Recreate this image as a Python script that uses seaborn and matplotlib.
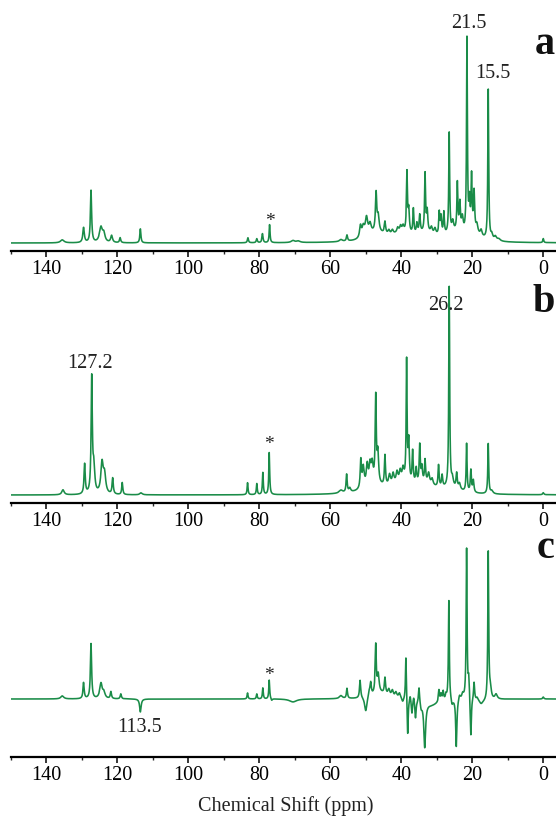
import numpy as np
import pandas as pd
import matplotlib
matplotlib.use("Agg")
import matplotlib.pyplot as plt
import seaborn as sns

# ---------------- data (peak lists) ----------------
# chemical shift (ppm), intensity (arb.), half width (ppm)
a_shift = [135.5, 129.5, 127.4, 124.6, 123.8, 121.6, 119.2, 113.5,
           83.2, 80.7, 79.1, 77.1, 70.5, 69.0, 57.0, 55.3,
           51.5, 50.7, 49.8, 48.8, 47.1, 46.5, 44.6, 43.5, 42.5, 41.0, 40.2, 39.5,
           38.4, 37.9, 36.6, 35.6, 34.8, 33.3, 32.7, 31.5, 30.5, 29.3, 28.8, 28.0,
           26.5, 25.5, 24.2, 23.5, 22.8, 21.5, 20.8, 20.2, 19.5, 18.7, 17.5,
           15.5, 14.5, 13.5, 12.5, 0.0,
           47.0, 40.0, 33.0, 25.0, 19.0]
a_height = [3, 15, 52, 15, 8, 7, 5, 14,
            5, 4, 9, 18, 2, 1.5, 2, 6,
            12, 10, 18, 10, 38, 15, 12, 4, 4, 5, 6, 6,
            60, 22, 25, 10, 18, 58, 20, 6, 6, 22, 18, 22,
            100, 10, 48, 28, 15, 195, 30, 55, 40, 8, 6,
            150, 5, 4, 2, 4,
            8, 7, 7, 8, 6]
a_width = [0.6, 0.25, 0.2, 0.5, 0.4, 0.3, 0.2, 0.18,
           0.18, 0.18, 0.18, 0.15, 0.6, 0.6, 0.5, 0.2,
           0.3, 0.4, 0.4, 0.4, 0.22, 0.3, 0.22, 0.3, 0.3, 0.3, 0.3, 0.3,
           0.17, 0.2, 0.17, 0.2, 0.2, 0.17, 0.2, 0.3, 0.3, 0.17, 0.2, 0.17,
           0.15, 0.3, 0.17, 0.2, 0.3, 0.15, 0.2, 0.17, 0.2, 0.3, 0.3,
           0.15, 0.3, 0.4, 0.5, 0.15,
           3, 4, 3, 3, 2]

b_shift = [135.3, 129.2, 127.2, 126.6, 124.3, 123.6, 121.3, 118.6, 113.3,
           83.3, 80.7, 79.0, 77.2, 57.0, 55.4, 54.5,
           51.4, 50.7, 49.6, 48.8, 48.2, 47.2, 46.6, 44.6, 43.3, 42.3, 41.2, 40.3, 39.5,
           38.5, 37.9, 36.8, 35.8, 34.8, 34.2, 33.3, 32.3, 31.3, 29.5, 28.5,
           26.5, 25.6, 24.4, 23.6, 21.6, 20.4, 19.7, 15.5, 14.5, 0.0,
           48.0, 40.0, 33.0, 26.0]
b_height = [5, 30, 115, 25, 30, 18, 16, 12, 2,
            12, 11, 22, 42, 3, 18, 4,
            28, 20, 20, 18, 18, 85, 30, 30, 10, 10, 10, 10, 12,
            120, 40, 32, 15, 38, 15, 22, 10, 6, 22, 12,
            200, 8, 15, 6, 48, 22, 12, 50, 3, 2,
            8, 10, 8, 5]
b_width = [0.4, 0.2, 0.2, 0.3, 0.4, 0.4, 0.2, 0.18, 0.4,
           0.15, 0.15, 0.15, 0.15, 0.6, 0.18, 0.3,
           0.2, 0.3, 0.3, 0.3, 0.3, 0.18, 0.25, 0.18, 0.3, 0.3, 0.3, 0.3, 0.3,
           0.15, 0.2, 0.18, 0.2, 0.18, 0.2, 0.18, 0.3, 0.3, 0.18, 0.2,
           0.15, 0.3, 0.2, 0.3, 0.15, 0.18, 0.2, 0.15, 0.4, 0.2,
           3, 4, 3, 3]

c_shift = [135.5, 129.5, 127.4, 124.6, 123.8, 121.8, 119.0, 113.5,
           83.3, 80.7, 79.0, 77.2, 76.5, 70.5, 57.0, 55.3,
           51.6, 50.0, 49.0, 48.6, 47.2, 46.5, 44.6, 43.5, 42.5, 41.5, 40.5, 39.6,
           38.7, 38.2, 37.5, 37.0, 36.5, 36.0, 35.0, 34.4, 33.4, 29.4, 28.8, 28.2, 27.4,
           26.6, 25.7, 24.5, 23.6, 22.7, 21.6, 21.0, 20.4, 19.5, 18.6, 17.5,
           15.5, 14.9, 13.3, 0.0,
           46.0, 31.5, 17.0]
c_height = [3, 16, 55, 15, 6, 7, 5, -13,
            6, 5, 11, 19, -2, -3, 3, 10,
            18, -15, 6, 12, 48, 18, 16, 6, 6, 5, 5, -4,
            45, -38, 6, -14, 6, -18, 16, -6, -45, 12, 7, 9, 5,
            100, -6, -48, 5, 5, 150, 20, -40, 18, 3, -3,
            148, 10, 5, 2,
            6, -6, -3]
c_width = [0.5, 0.2, 0.2, 0.4, 0.4, 0.2, 0.2, 0.25,
           0.15, 0.15, 0.15, 0.15, 0.2, 1.2, 0.5, 0.18,
           0.2, 0.4, 0.3, 0.2, 0.18, 0.3, 0.2, 0.3, 0.3, 0.3, 0.3, 0.3,
           0.15, 0.17, 0.2, 0.2, 0.2, 0.2, 0.18, 0.3, 0.3, 0.18, 0.2, 0.18, 0.2,
           0.15, 0.3, 0.2, 0.3, 0.3, 0.15, 0.2, 0.17, 0.18, 0.3, 0.5,
           0.15, 0.3, 0.4, 0.2,
           3, 2.5, 2]

tick_values = [140, 120, 100, 80, 60, 40, 20, 0]
panel_letters = ["a", "b", "c"]
xlabel_text = "Chemical Shift (ppm)"

# ---------------- build spectra from the peak lists ----------------
ppm = np.arange(-10.0, 150.5, 0.02)


def spectrum(shifts, heights, widths):
    s = np.zeros_like(ppm)
    for x0, h, g in zip(shifts, heights, widths):
        s += h * g**2 / ((ppm - x0) ** 2 + g**2)
    return s


spectra = [spectrum(a_shift, a_height, a_width),
           spectrum(b_shift, b_height, b_width),
           spectrum(c_shift, c_height, c_width)]

# ---------------- figure ----------------
sns.set_theme(style="white")
plt.rcParams["font.family"] = ["Liberation Serif", "DejaVu Serif"]

W, H = 556, 817
fig = plt.figure(figsize=(W / 100, H / 100), dpi=100)

color = "#1a8c48"
# (axis line px, top px, ylim)
layout = [(251, 10, (-8, 233)), (503, 275, (-8, 220)), (757, 530, (-58, 169))]
left_px = 10.8
px_per_ppm = 3.55
xlim = (150.0, -10.0)
width_px = (xlim[0] - xlim[1]) * px_per_ppm
letter_y = [198, 192, 151]

axes = []
for i, (bot, top, yl) in enumerate(layout):
    ax = fig.add_axes([left_px / W, 1 - bot / H, width_px / W, (bot - top) / H])
    df = pd.DataFrame({"ppm": ppm, "I": spectra[i]})
    sns.lineplot(data=df, x="ppm", y="I", ax=ax, color=color, linewidth=1.15,
                 estimator=None, sort=False)
    ax.set_xlim(*xlim)
    ax.set_ylim(*yl)
    ax.set_facecolor("none")
    for s in ["left", "right", "top"]:
        ax.spines[s].set_visible(False)
    ax.spines["bottom"].set_linewidth(1.6)
    ax.spines["bottom"].set_color("black")
    ax.set_yticks([])
    ax.set_xticks(tick_values)
    ax.set_xticklabels([str(t) for t in tick_values])
    ax.set_xticks(np.arange(150, -10, -10), minor=True)
    ax.tick_params(axis="x", which="major", direction="out", length=4, width=1.1,
                   labelsize=14.5, pad=2.5, colors="black", bottom=True)
    ax.tick_params(axis="x", which="minor", direction="out", length=2.5, width=1.0,
                   bottom=True)
    ax.set_xlabel("")
    ax.set_ylabel("")
    ax.text(-3.2, letter_y[i], panel_letters[i], ha="right", va="center",
            fontsize=29, fontweight="bold", color="#111111")
    axes.append(ax)

ax_a, ax_b, ax_c = axes
fs = 14.5
ax_a.text(20.9, 220, "21.5", ha="center", va="center", fontsize=fs, color="#222222")
ax_a.text(14.2, 170, "15.5", ha="center", va="center", fontsize=fs, color="#222222")
ax_a.text(77.0, 22, "*", ha="center", va="center", fontsize=14, color="#222222")
ax_b.text(127.7, 132, "127.2", ha="center", va="center", fontsize=fs, color="#222222")
ax_b.text(27.5, 189, "26.2", ha="center", va="center", fontsize=fs, color="#222222")
ax_b.text(77.2, 50, "*", ha="center", va="center", fontsize=14, color="#222222")
ax_c.text(113.7, -29, "113.5", ha="center", va="center", fontsize=fs, color="#222222")
ax_c.text(77.2, 23, "*", ha="center", va="center", fontsize=14, color="#222222")

fig.text(286 / W, 1 - 806 / H, xlabel_text, ha="center", va="center", fontsize=14.5,
         color="#222222")

fig.savefig("out.png", dpi=100, facecolor="white")
